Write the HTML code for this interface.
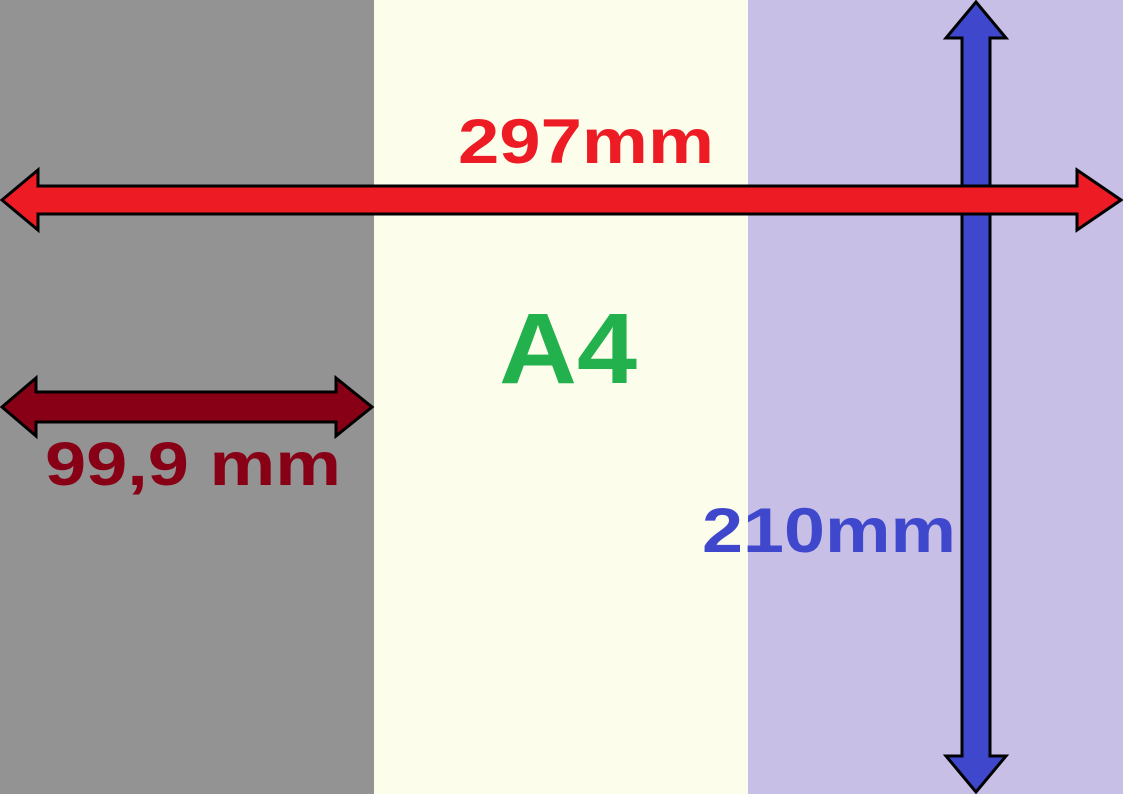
<!DOCTYPE html>
<html><head><meta charset="utf-8"><style>
html,body{margin:0;padding:0;width:1123px;height:794px;overflow:hidden}
svg{display:block}
text{font-family:"Liberation Sans",Arial,sans-serif;font-weight:bold}
</style></head><body>
<svg width="1123" height="794" viewBox="0 0 1123 794">
<rect x="0" y="0" width="374" height="794" fill="#939393"/>
<rect x="374" y="0" width="374" height="794" fill="#fdfdec"/>
<rect x="748" y="0" width="375" height="794" fill="#c7bfe6"/>

<polygon fill="#3f48cc" stroke="#000" stroke-width="3"
 points="976,2 1006,38 990,38 990,756 1006,756 976,792 946,756 962,756 962,38 946,38"/>

<polygon fill="#ed1c24" stroke="#000" stroke-width="3"
 points="2,200 38,170 38,186 1077,186 1077,170 1121,200 1077,230 1077,214 38,214 38,230"/>

<polygon fill="#880015" stroke="#000" stroke-width="3"
 points="2,407 36,378 36,392 336,392 336,378 372,407 336,436 336,422 36,422 36,436"/>

<text x="458" y="163" font-size="63" fill="#ed1c24" textLength="256" lengthAdjust="spacingAndGlyphs">297mm</text>
<text x="499" y="383" font-size="100" fill="#22b14c" textLength="138" lengthAdjust="spacingAndGlyphs">A4</text>
<text x="45" y="485" font-size="61" fill="#880015" textLength="296" lengthAdjust="spacingAndGlyphs">99,9 mm</text>
<text x="702" y="552" font-size="63" fill="#3f48cc" textLength="254" lengthAdjust="spacingAndGlyphs">210mm</text>
</svg>
</body></html>
